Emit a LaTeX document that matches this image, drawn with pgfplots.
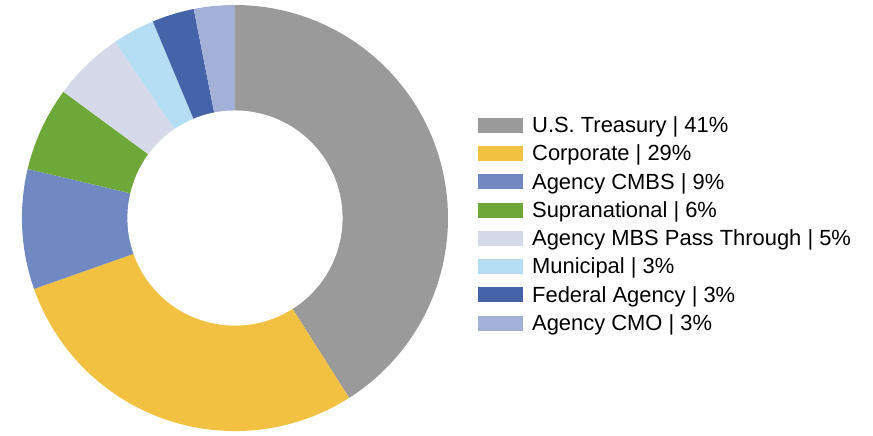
\documentclass[border=0pt]{standalone}
\usepackage{pgfplots}
\pgfplotsset{compat=1.18}
\usepackage{fontspec}
\setmainfont{Liberation Sans}
\definecolor{ctreas}{HTML}{9A9A9A}
\definecolor{ccorp}{HTML}{F2C142}
\definecolor{ccmbs}{HTML}{7189C2}
\definecolor{csupra}{HTML}{6EA839}
\definecolor{cmbs}{HTML}{D5D9E9}
\definecolor{cmuni}{HTML}{B5DDF3}
\definecolor{cfed}{HTML}{4563A9}
\definecolor{ccmo}{HTML}{A3B1D9}
\xdef\cum{0}
\newcommand\donutwedge[2]{%
  \pgfmathsetmacro\aA{90-3.6*\cum}%
  \pgfmathsetmacro\aB{90-3.6*(\cum+#1)}%
  \edef\tmp{\noexpand\addplot[fill=#2, draw=none, domain=\aB:\aA, samples=90]
    ({cos(x)},{sin(x)}) -- (axis cs:0,0) -- cycle;}%
  \tmp
  \pgfmathsetmacro\newcum{\cum+#1}%
  \xdef\cum{\newcum}%
}
\begin{document}
\begin{tikzpicture}
\begin{axis}[
  x=213bp, y=213bp,
  xmin=-1.103, xmax=2.995, ymin=-1.019, ymax=1.0235,
  hide axis, clip=false,
  legend cell align=left,
  legend style={draw=none, fill=none, at={(0.5475,0.737)}, anchor=north west,
    font=\fontsize{22}{24}\selectfont, row sep=6.9bp,
    inner sep=0pt,
    /tikz/every odd column/.append style={column sep=7bp}},
  legend image code/.code={\fill[#1] (0bp,-7.5bp) rectangle (45bp,7.5bp);},
]
\path (rel axis cs:0,0) rectangle (rel axis cs:1,1);
\donutwedge{41.0}{ctreas}
\addlegendentry{U.S. Treasury | 41\%}
\donutwedge{28.6}{ccorp}
\addlegendentry{Corporate | 29\%}
\donutwedge{9.1}{ccmbs}
\addlegendentry{Agency CMBS | 9\%}
\donutwedge{6.4}{csupra}
\addlegendentry{Supranational | 6\%}
\donutwedge{5.4}{cmbs}
\addlegendentry{Agency MBS Pass Through | 5\%}
\donutwedge{3.2}{cmuni}
\addlegendentry{Municipal | 3\%}
\donutwedge{3.2}{cfed}
\addlegendentry{Federal Agency | 3\%}
\donutwedge{3.1}{ccmo}
\addlegendentry{Agency CMO | 3\%}
\addplot[fill=white, draw=none, domain=0:360, samples=180, forget plot]
  ({0.505*cos(x)},{0.505*sin(x)}) -- cycle;
\end{axis}
\end{tikzpicture}
\end{document}
